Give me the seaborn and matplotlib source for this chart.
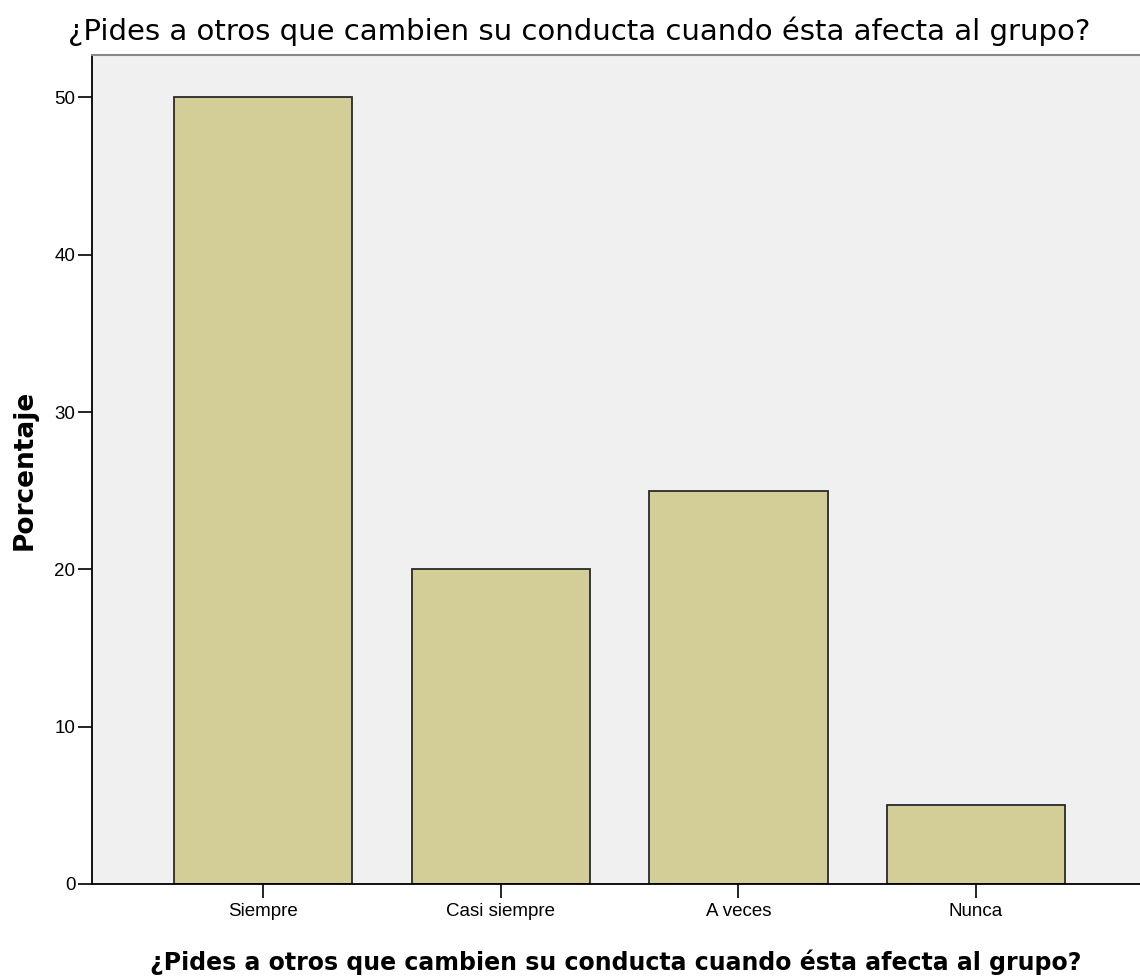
import matplotlib
matplotlib.use("Agg")
import matplotlib.pyplot as plt
import seaborn as sns
import pandas as pd

categories = ["Siempre", "Casi siempre", "A veces", "Nunca"]
porcentaje = [50, 20, 25, 5]
yticks = [0, 10, 20, 30, 40, 50]
title = "¿Pides a otros que cambien su conducta cuando ésta afecta al grupo?"

sns.set_theme(style="white")
plt.rcParams["font.family"] = ["Liberation Sans", "DejaVu Sans"]
plt.rcParams["text.color"] = "black"
plt.rcParams["axes.labelcolor"] = "black"
plt.rcParams["xtick.color"] = "black"
plt.rcParams["ytick.color"] = "black"

df = pd.DataFrame({"cat": categories, "pct": porcentaje})

fig = plt.figure(figsize=(11.4, 9.77), dpi=100)
ax = fig.add_axes([92/1140, 93/977, 1 - 92/1140, (884-55)/977])
ax.set_facecolor("#F0F0F0")

sns.barplot(data=df, x="cat", y="pct", order=categories, color="#D3CE97",
            width=0.75, edgecolor="#2a2a2a", linewidth=1.3, saturation=1, ax=ax)

ax.set_xlim(-0.72, 3.69)
ax.set_ylim(0, 52.7)
ax.set_yticks(yticks)
ax.set_yticklabels([str(v) for v in yticks])
ax.tick_params(axis="both", which="both", length=10, width=1.2, color="black",
               direction="out", labelsize=13.5, pad=2, left=True, bottom=True)
ax.tick_params(axis="x", pad=4)

for s in ["left", "bottom"]:
    ax.spines[s].set_color("black")
    ax.spines[s].set_linewidth(1.3)
ax.spines["right"].set_visible(False)
ax.spines["top"].set_color("#888888")
ax.spines["top"].set_linewidth(1.5)

ax.set_xlabel(title, fontsize=17, fontweight="bold", family="DejaVu Sans", labelpad=21)
ax.set_ylabel("Porcentaje", fontsize=19, fontweight="bold", family="DejaVu Sans",
              labelpad=12)
fig.text(68/1140, 1 - 31/977, title, fontsize=21, ha="left", va="center",
         family="DejaVu Sans")

fig.savefig("out.png", dpi=100, facecolor="white")
